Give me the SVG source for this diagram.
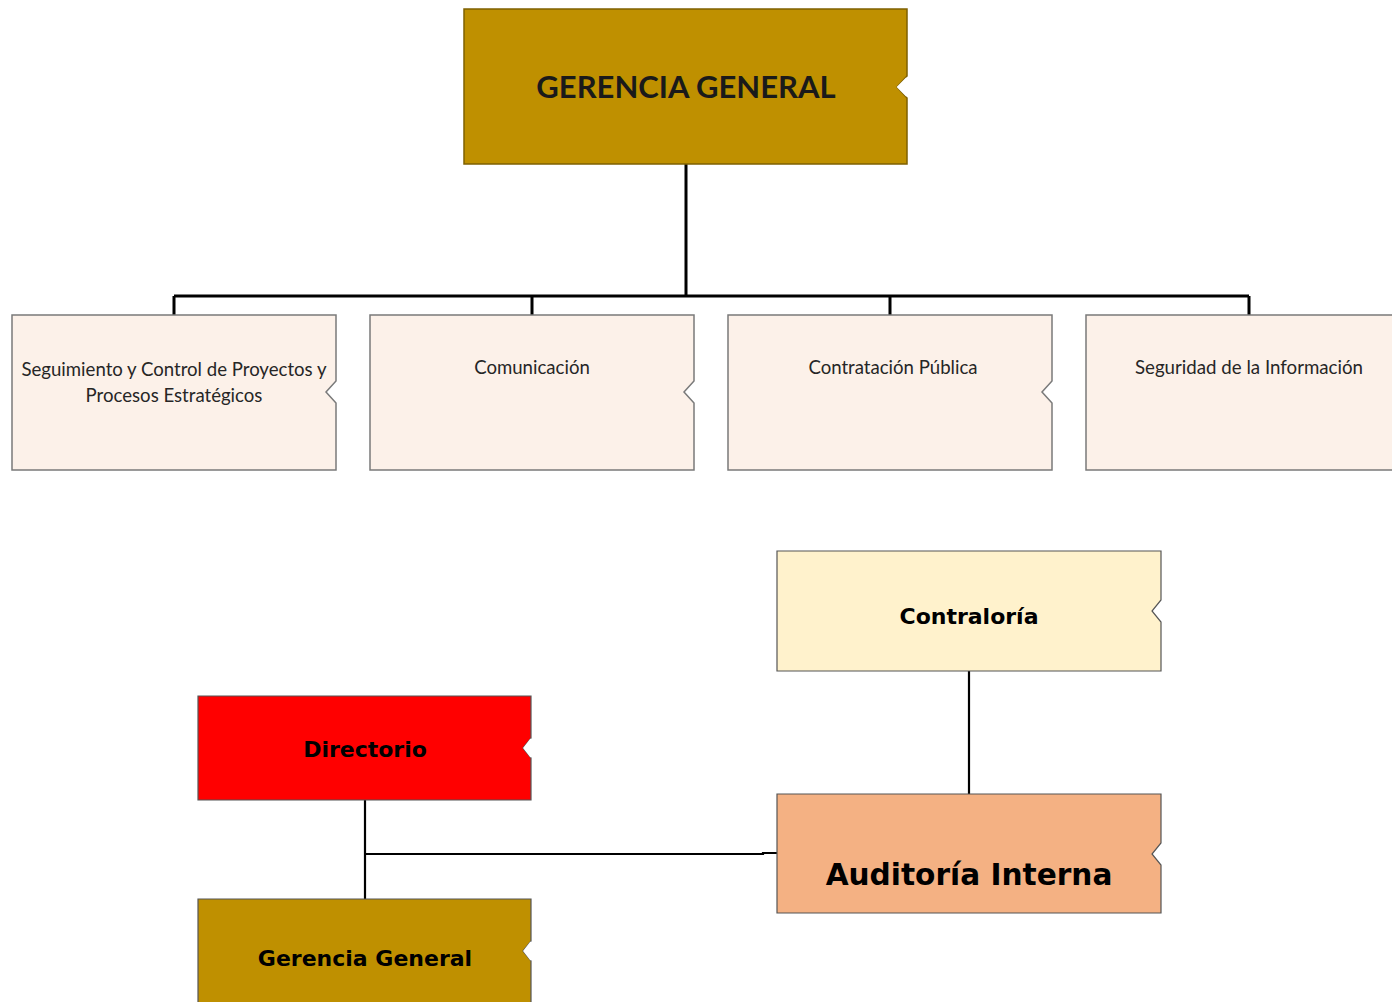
<svg xmlns="http://www.w3.org/2000/svg" width="1392" height="1002" viewBox="0 0 1392 1002">
<style>
.lbl{font-family:Lato,"Open Sans","Liberation Sans",sans-serif;fill:#262626;text-anchor:middle}
.blbl{font-family:"DejaVu Sans",Verdana,sans-serif;font-weight:bold;fill:#000;text-anchor:middle}
.child{fill:#FCF1E9;stroke:#7a7a7a;stroke-width:1.5}
.conn{fill:none;stroke:#000;stroke-width:3}
.conn2{fill:none;stroke:#000;stroke-width:2.2}
</style>
<rect width="1392" height="1002" fill="#fff"/>
<g id="connectors">
<path class="conn" d="M686,164 V296 M174,296 H1249 M174,296 V315 M532,296 V315 M890,296 V315 M1249,296 V315"/>
<path class="conn2" d="M969,671 V794 M365,800 V899 M365,854 H763 V853 H777"/>
</g>
<g id="gerencia-general">
<path d="M464,9 H907 V76 L897,87 L907,98 V164 H464 Z" fill="#BF9000" stroke="#7F6000" stroke-width="1.5"/>
<path d="M907,78 L898,87 L907,96" fill="none" stroke="#fff" stroke-width="2"/>
<text class="lbl" x="686" y="98" font-size="31" font-weight="bold" style="fill:#1a1a1a">GERENCIA GENERAL</text>
</g>
<g id="seguimiento">
<path class="child" d="M12,315 H336 V381 L326,392 L336,403 V470 H12 Z"/>
<text class="lbl" x="174" y="376" font-size="18.6">Seguimiento y Control de Proyectos y</text>
<text class="lbl" x="174" y="402" font-size="18.6">Procesos Estratégicos</text>
</g>
<g id="comunicacion">
<path class="child" d="M370,315 H694 V381 L684,392 L694,403 V470 H370 Z"/>
<text class="lbl" x="532" y="374" font-size="18.6">Comunicación</text>
</g>
<g id="contratacion">
<path class="child" d="M728,315 H1052 V381 L1042,392 L1052,403 V470 H728 Z"/>
<text class="lbl" x="893" y="374" font-size="18.6">Contratación Pública</text>
</g>
<g id="seguridad">
<path class="child" d="M1400,315 H1086 V470 H1400"/>
<text class="lbl" x="1249" y="374" font-size="18.7">Seguridad de la Información</text>
</g>
<g id="contraloria">
<path d="M777,551 H1161 V600 L1152,611 L1161,622 V671 H777 Z" fill="#FFF2CC" stroke="#555" stroke-width="1.2"/>
<text class="blbl" x="969" y="624" font-size="22">Contraloría</text>
</g>
<g id="directorio">
<path d="M198,696 H531 V738 L523,748 L531,758 V800 H198 Z" fill="#FF0000" stroke="#555" stroke-width="1.2"/>
<path d="M531,739 L524,748 L531,757" fill="none" stroke="#fff" stroke-width="1.5"/>
<text class="blbl" x="365" y="757" font-size="22">Directorio</text>
</g>
<g id="auditoria">
<path d="M777,794 H1161 V843 L1152,854 L1161,865 V913 H777 Z" fill="#F4B183" stroke="#555" stroke-width="1.2"/>
<text class="blbl" x="969" y="885" font-size="29.6">Auditoría Interna</text>
</g>
<g id="gerencia-general-2">
<path d="M198,899 H531 V941 L523,951 L531,961 V1010 H198 Z" fill="#BF9000" stroke="#555" stroke-width="1.2"/>
<path d="M531,942 L524,951 L531,960" fill="none" stroke="#fff" stroke-width="1.5"/>
<text class="blbl" x="365" y="966" font-size="22">Gerencia General</text>
</g>
</svg>
